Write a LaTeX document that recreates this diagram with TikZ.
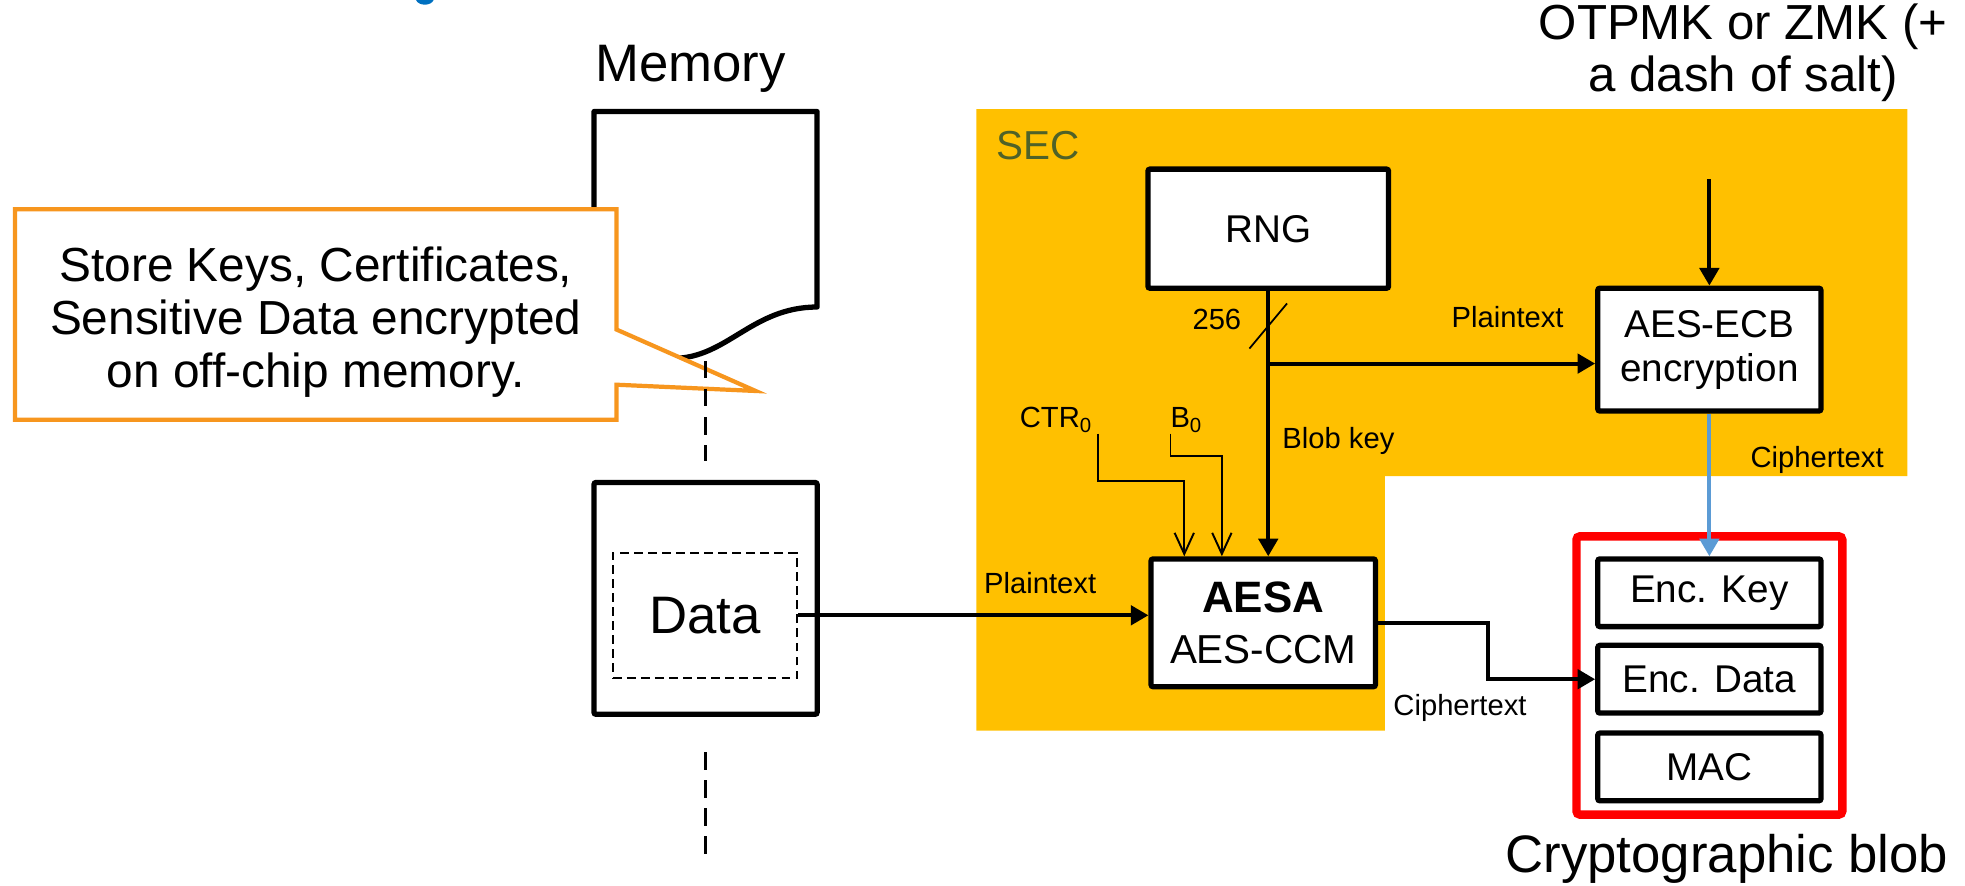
\documentclass[tikz,border=0pt]{standalone}
\usepackage{fontspec}
\setmainfont{Liberation Sans}
\usetikzlibrary{arrows.meta,calc}

\definecolor{secamber}{RGB}{255,192,0}
\definecolor{secolive}{RGB}{79,98,40}
\definecolor{noteorange}{RGB}{247,150,30}
\definecolor{keyblue}{RGB}{91,155,213}
\definecolor{headblue}{RGB}{0,112,192}

\tikzset{
  blk/.style={draw, line width=1.5pt, fill=white, rounded corners=0.6pt, inner sep=0pt, align=center},
  flow/.style={line width=1.1pt, -{Triangle[length=5pt,width=5.5pt]}},
  thinflow/.style={line width=0.55pt, -{Straight Barb[length=6pt,width=5.5pt]}},
  memdash/.style={line width=1pt, dash pattern=on 5pt off 3pt},
  lbl/.style={font=\fontsize{8.3}{10}\selectfont},
  big/.style={font=\fontsize{15}{18}\selectfont},
  mid/.style={font=\fontsize{11}{12.5}\selectfont},
}

\begin{document}
\begin{tikzpicture}[x=0.012532cm, y=-0.012532cm]
  \useasboundingbox (0,0) rectangle (1568,707);

  % security engine area
  \fill[secamber] (779,87) -- (1522,87) -- (1522,380) -- (1105,380) -- (1105,583) -- (779,583) -- cycle;
  \node[text=secolive, font=\fontsize{11.5}{13}\selectfont] (sec) at (828,116) {SEC};

  % cut-off heading
  \fill[headblue] (332,0) .. controls (334,5) and (344,5) .. (346,0) -- cycle;

  % memory
  \node[big] (memlabel) at (551,55) {Memory};
  \draw[line width=1.5pt, fill=white, line join=round] (474,89) -- (652,89) -- (652,245)
    .. controls (600,245) and (580,286) .. (537,286)
    .. controls (505,286) and (490,278) .. (474,272) -- cycle;
  \node[blk, minimum width=2.231cm, minimum height=2.318cm] (mem) at (563,477.5) {};
  \node[draw, dash pattern=on 2.5pt off 1.5pt, line width=0.6pt, minimum width=1.842cm, minimum height=1.253cm, big] (data) at (562.5,491) {Data};

  % callout
  \draw[noteorange, line width=1.2pt, fill=white] (12,167) -- (492,167) -- (492,263) -- (603,312)
    -- (492,307) -- (492,335) -- (12,335) -- cycle;
  \node[font=\fontsize{13.6}{15}\selectfont, align=center] (note) at (252,257)
    {Store Keys, Certificates,\\Sensitive Data encrypted\\on off-chip memory.};

  \draw[memdash] ($(mem.north)+(0,-95)$) -- ($(mem.north)+(0,-15)$);
  \draw[memdash] ($(mem.south)+(0,28)$) -- ($(mem.south)+(0,110)$);

  % blocks
  \node[blk, mid, minimum width=2.406cm, minimum height=1.191cm] (rng) at (1012,182.5) {RNG};
  \node[blk, minimum width=2.243cm, minimum height=1.278cm, font=\fontsize{11.5}{14.6}\selectfont] (aesa) at (1008,497)
    {{\bfseries\fontsize{12.5}{14.6}\selectfont AESA}\\AES-CCM};
  \node[blk, mid, minimum width=2.231cm, minimum height=1.228cm] (ecb) at (1364,279) {AES-ECB\\encryption};

  % blob
  \node[draw=red, line width=2.4pt, rounded corners=1pt, minimum width=2.657cm, minimum height=2.782cm] (blob) at (1364,539) {};
  \node[blk, mid, minimum width=2.231cm, minimum height=0.677cm] (enckey) at (1364,473) {Enc. Key};
  \node[blk, mid, minimum width=2.231cm, minimum height=0.677cm] (encdata) at (1364,542) {Enc. Data};
  \node[blk, mid, minimum width=2.231cm, minimum height=0.677cm] (mac) at (1364,612) {MAC};
  \node[big] (bloblabel) at (1378,685) {Cryptographic blob};

  % inputs
  \node[font=\fontsize{14}{14.8}\selectfont, align=center] (otp) at (1391,42) {OTPMK or ZMK (+\\a dash of salt)};
  \coordinate (keyin) at (1364,143);
  \draw[flow] (keyin) -- (ecb.north);

  \node[lbl] (ctr) at (843,335) {CTR\textsubscript{0}};
  \node[lbl] (bzero) at (947,335) {B\textsubscript{0}};
  \coordinate (ctrin) at (876,346);
  \coordinate (bin) at (934,346);
  \draw[thinflow] (ctrin) |- ($(aesa.north)+(-63,-60)$) -- ($(aesa.north)+(-63,0)$);
  \draw[thinflow] (bin) |- ($(aesa.north)+(-33,-80)$) -- ($(aesa.north)+(-33,0)$);

  % blob key
  \coordinate (split) at ($(rng.south)+(0,58)$);
  \draw[line width=1.1pt] (rng.south) -- (split);
  \draw[flow] (split) -- (aesa.north -| split);
  \draw[flow] (split) -- (split -| ecb.west);
  \draw[line width=0.5pt] ($(rng.south)+(-15,46)$) -- ($(rng.south)+(15,10)$);
  \node[lbl] (bits) at (971,255) {256};
  \node[lbl] (pt1) at (1203,253) {Plaintext};
  \node[lbl] (bkey) at (1068,352) {Blob key};

  % data path
  \draw[flow] (data.east) -- (data.east -| aesa.west);
  \node[lbl] (pt2) at (830,465) {Plaintext};
  \draw[flow] (aesa.east) -- ++(88,0) |- (encdata.west);
  \node[lbl] (ct1) at (1165,565) {Ciphertext};
  \draw[flow, keyblue] (ecb.south) -- (enckey.north);
  \node[lbl] (ct2) at (1450,367) {Ciphertext};
\end{tikzpicture}
\end{document}
